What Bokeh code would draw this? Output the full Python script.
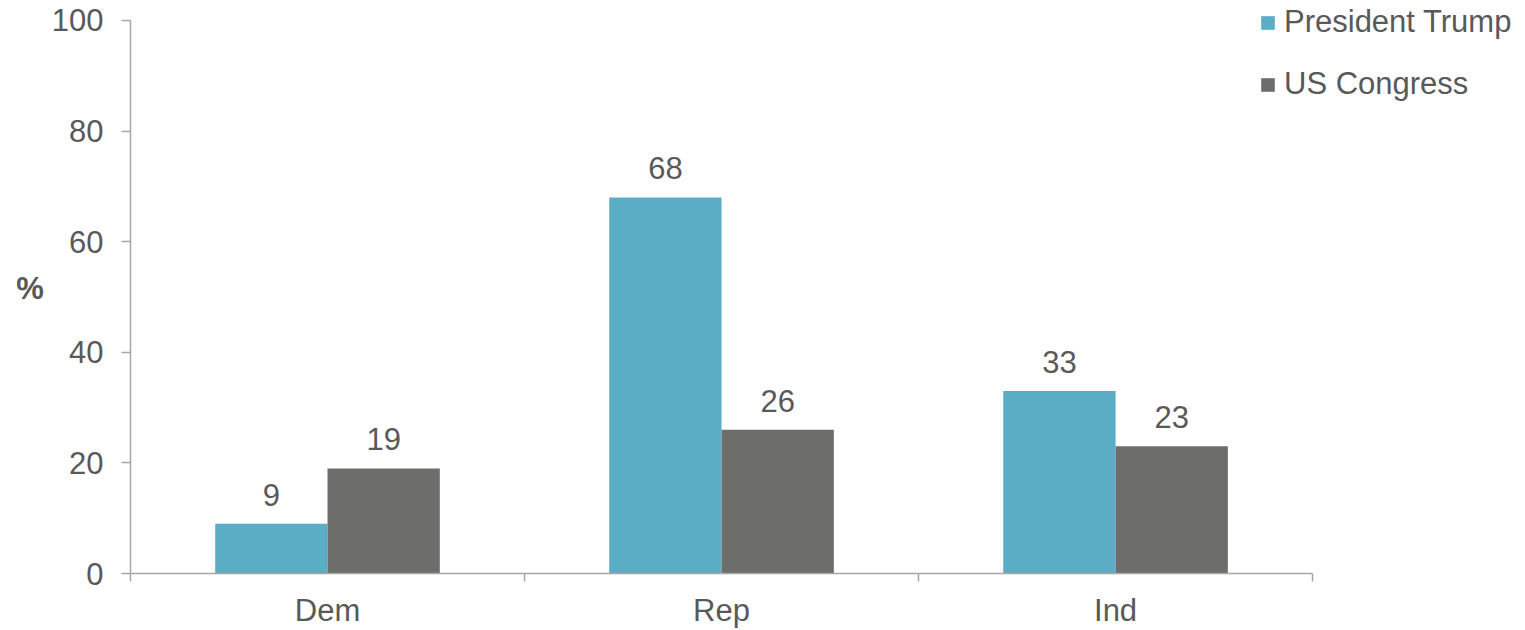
from bokeh.plotting import figure
from bokeh.models import ColumnDataSource, FixedTicker, Range1d, Legend, LegendItem, LabelSet
from bokeh.core.properties import value
from bokeh.embed import file_html
from bokeh.resources import INLINE

categories = ["Dem", "Rep", "Ind"]
trump = [9, 68, 33]
congress = [19, 26, 23]
y_ticks = [0, 20, 40, 60, 80, 100]

FONT = "Liberation Sans"
FS = "31px"
TXT = "#595959"
C_TRUMP = "#5AADC5"
C_CONG = "#6D6E6B"
AXIS = "#A6A6A6"

centers = [i + 0.5 for i in range(len(categories))]
bw = 0.285
src = ColumnDataSource(dict(
    xt=[c - bw / 2 for c in centers],
    xc=[c + bw / 2 for c in centers],
    trump=trump, congress=congress,
    lt=[str(v) for v in trump], lc=[str(v) for v in congress],
))

# frame: x 130..1515 (0..3 spans 130..1312), y 2..573 (0..100 spans 573..20)
p = figure(width=1520, height=630, output_backend="svg", toolbar_location=None,
           x_range=Range1d(0, 3.515), y_range=Range1d(0, 103.25),
           min_border_left=130, min_border_right=5, min_border_top=2, min_border_bottom=57)
p.outline_line_color = None
p.xgrid.grid_line_color = None
p.ygrid.grid_line_color = None

rt = p.vbar(x="xt", top="trump", width=bw, source=src, fill_color=C_TRUMP, line_color=None)
rc = p.vbar(x="xc", top="congress", width=bw, source=src, fill_color=C_CONG, line_color=None)

for col, ys, lab in (("xt", "trump", "lt"), ("xc", "congress", "lc")):
    p.add_layout(LabelSet(x=col, y=ys, text=lab, source=src, text_align="center",
                          text_baseline="middle", y_offset=29, text_font=value(FONT),
                          text_font_size=value(FS), text_color=TXT))

xa = p.xaxis[0]
xa.bounds = (0, 3)
xa.ticker = FixedTicker(ticks=centers, minor_ticks=[0, 1, 2, 3])
xa.major_label_overrides = {c: n for c, n in zip(centers, categories)}
xa.major_tick_out = 0
xa.major_tick_in = 0
xa.minor_tick_out = 8
xa.minor_tick_in = 0
xa.minor_tick_line_color = AXIS
xa.axis_line_color = AXIS
xa.axis_line_width = 1.5
xa.minor_tick_line_width = 1.5
xa.major_label_text_font = FONT
xa.major_label_text_font_size = FS
xa.major_label_text_color = TXT
xa.major_label_standoff = 11

ya = p.yaxis[0]
ya.bounds = (0, 100)
ya.ticker = FixedTicker(ticks=y_ticks)
ya.major_tick_out = 9
ya.major_tick_in = 0
ya.minor_tick_line_color = None
ya.major_tick_line_color = AXIS
ya.major_tick_line_width = 1.5
ya.axis_line_color = AXIS
ya.axis_line_width = 1.5
ya.major_label_text_font = FONT
ya.major_label_text_font_size = FS
ya.major_label_text_color = TXT
ya.major_label_standoff = 18
ya.axis_label = "%"
ya.axis_label_text_font = FONT
ya.axis_label_text_font_size = FS
ya.axis_label_text_font_style = "bold"
ya.axis_label_text_color = TXT
ya.axis_label_standoff = 5
if hasattr(ya, "axis_label_orientation"):
    ya.axis_label_orientation = "horizontal"

legend = Legend(items=[LegendItem(label="President Trump", renderers=[rt]),
                       LegendItem(label="US Congress", renderers=[rc])],
                location=(1129, 471), orientation="vertical")
legend.label_text_font = FONT
legend.label_text_font_size = FS
legend.label_text_color = TXT
legend.glyph_width = 17
legend.glyph_height = 17
legend.label_standoff = 8
legend.spacing = 26
legend.padding = 0
legend.margin = 0
legend.border_line_color = None
legend.background_fill_alpha = 0
p.add_layout(legend, "center")

open("out.html", "w").write(file_html(p, INLINE))
